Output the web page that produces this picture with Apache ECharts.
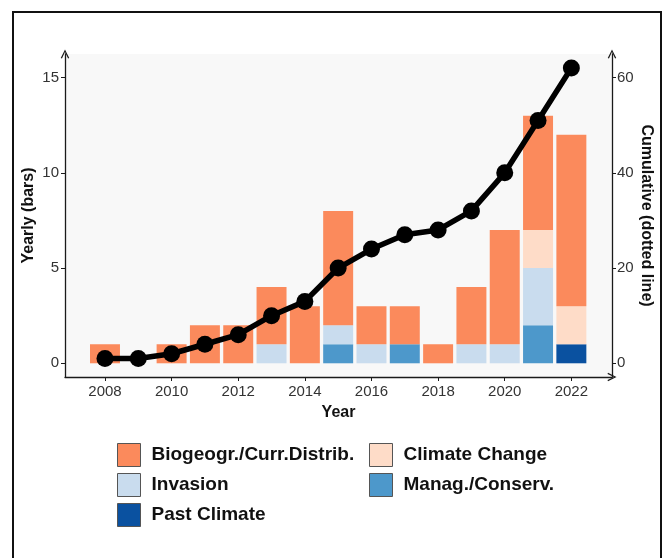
<!DOCTYPE html>
<html>
<head>
<meta charset="utf-8">
<script src="https://cdn.jsdelivr.net/npm/echarts@6/dist/echarts.min.js"></script>
<style>
  html, body { margin: 0; padding: 0; background: #ffffff; }
  #chart { width: 665px; height: 558px; }
</style>
</head>
<body>
<div id="chart"></div>
<script>
// Publication counts per year, split by study topic
const years = [2008, 2009, 2010, 2011, 2012, 2013, 2014, 2015, 2016, 2017, 2018, 2019, 2020, 2021, 2022];
const biogeogr      = [1, 0, 1, 2, 2, 3, 3, 6, 2, 2, 1, 3, 6, 6, 9];
const climateChange = [0, 0, 0, 0, 0, 0, 0, 0, 0, 0, 0, 0, 0, 2, 2];
const invasion      = [0, 0, 0, 0, 0, 1, 0, 1, 1, 0, 0, 1, 1, 3, 0];
const managConserv  = [0, 0, 0, 0, 0, 0, 0, 1, 0, 1, 0, 0, 0, 2, 0];
const pastClimate   = [0, 0, 0, 0, 0, 0, 0, 0, 0, 0, 0, 0, 0, 0, 1];
// Running total of publications
const cumulative    = [1, 1, 2, 4, 6, 10, 13, 20, 24, 27, 28, 32, 40, 51, 62];

const yearTicks = [2008, 2010, 2012, 2014, 2016, 2018, 2020, 2022];
const yearlyTicks = [0, 5, 10, 15];
const cumulativeTicks = [0, 20, 40, 60];

const FONT = '"Liberation Sans", Arial, sans-serif';
const AXIS_COLOR = '#1a1a1a';
const TICK_TEXT = '#333333';

// Panel geometry: the visible axes span a padded year range, the bar
// grid covers exactly the year bands inside it.
const X_MIN = 2006.8, X_MAX = 2023.22;
const Y_MIN = -0.72, Y_MAX = 16.24;
const PANEL = { left: 65, right: 53, top: 54, bottom: 181 };
const panelWidth = 665 - PANEL.left - PANEL.right;
const pxPerYear = panelWidth / (X_MAX - X_MIN);
const barGridLeft = PANEL.left + (years[0] - 0.5 - X_MIN) * pxPerYear;
const barGridRight = 665 - (PANEL.left + (years[years.length - 1] + 0.5 - X_MIN) * pxPerYear);

// open arrow head used at the end of each axis line
const ARROW = 'path://M0,10 L5,0 L10,10 L8.6,10.6 L5,3 L1.4,10.6 Z';

const stackDefs = [
  { name: 'Past Climate', data: pastClimate, color: '#0a51a0' },
  { name: 'Manag./Conserv.', data: managConserv, color: '#4d98cb' },
  { name: 'Invasion', data: invasion, color: '#c9dcee' },
  { name: 'Climate Change', data: climateChange, color: '#fedcc8' },
  { name: 'Biogeogr./Curr.Distrib.', data: biogeogr, color: '#fb8a5c' }
];

const barSeries = stackDefs.map(d => ({
  name: d.name,
  type: 'bar',
  stack: 'topics',
  xAxisIndex: 1,
  yAxisIndex: 2,
  barCategoryGap: '10%',
  data: d.data,
  itemStyle: { color: d.color },
  emphasis: { disabled: true },
  z: 2
}));

const lineSeries = {
  name: 'Cumulative',
  type: 'line',
  xAxisIndex: 0,
  yAxisIndex: 1,
  data: years.map((y, i) => [y, cumulative[i]]),
  symbol: 'circle',
  symbolSize: 17,
  lineStyle: { color: '#000000', width: 5.5, cap: 'round', join: 'round' },
  itemStyle: { color: '#000000' },
  emphasis: { disabled: true },
  z: 5
};

const legendText = {
  fontFamily: FONT,
  fontWeight: 'bold',
  fontSize: 19,
  color: '#111111',
  padding: [0, 0, 0, 6]
};

const legendCommon = {
  orient: 'vertical',
  icon: 'rect',
  itemWidth: 23,
  itemHeight: 23,
  itemGap: 6,
  selectedMode: false,
  textStyle: legendText,
  itemStyle: { borderColor: '#555555', borderWidth: 1 }
};

const titleStyle = { fontFamily: FONT, fontWeight: 'bold', fontSize: 16, color: '#111111' };

const option = {
  animation: false,
  backgroundColor: '#ffffff',
  grid: [
    {
      left: PANEL.left, right: PANEL.right, top: PANEL.top, bottom: PANEL.bottom,
      outerBoundsMode: 'none',
      show: true, backgroundColor: '#f8f8f8', borderWidth: 0
    },
    {
      left: barGridLeft, right: barGridRight, top: PANEL.top, bottom: PANEL.bottom,
      outerBoundsMode: 'none'
    }
  ],
  legend: [
    Object.assign({}, legendCommon, {
      left: 112, top: 438,
      data: ['Biogeogr./Curr.Distrib.', 'Invasion', 'Past Climate']
    }),
    Object.assign({}, legendCommon, {
      left: 364, top: 438,
      data: ['Climate Change', 'Manag./Conserv.']
    })
  ],
  xAxis: [
    {
      type: 'value',
      gridIndex: 0,
      min: X_MIN,
      max: X_MAX,
      name: 'Year',
      nameLocation: 'middle',
      nameGap: 28,
      nameTextStyle: titleStyle,
      axisLine: {
        show: true, onZero: false,
        lineStyle: { color: AXIS_COLOR, width: 1.3 },
        symbol: ['none', ARROW], symbolSize: [9, 9]
      },
      axisTick: { show: true, length: 4, lineStyle: { color: AXIS_COLOR }, customValues: yearTicks },
      axisLabel: {
        fontFamily: FONT, fontSize: 15, color: TICK_TEXT, margin: 7,
        customValues: yearTicks,
        formatter: v => String(v)
      },
      splitLine: { show: false }
    },
    {
      type: 'category',
      gridIndex: 1,
      data: years.map(String),
      boundaryGap: true,
      show: false
    }
  ],
  yAxis: [
    {
      type: 'value',
      gridIndex: 0,
      position: 'left',
      min: Y_MIN,
      max: Y_MAX,
      name: 'Yearly (bars)',
      nameLocation: 'middle',
      nameGap: 28,
      nameMoveOverlap: false,
      nameRotate: 90,
      nameTextStyle: titleStyle,
      axisLine: {
        show: true, onZero: false,
        lineStyle: { color: AXIS_COLOR, width: 1.3 },
        symbol: ['none', ARROW], symbolSize: [9, 9]
      },
      axisTick: { show: true, length: 4, lineStyle: { color: AXIS_COLOR }, customValues: yearlyTicks },
      axisLabel: {
        fontFamily: FONT, fontSize: 15, color: TICK_TEXT, margin: 6,
        customValues: yearlyTicks
      },
      splitLine: { show: false }
    },
    {
      type: 'value',
      gridIndex: 0,
      position: 'right',
      min: Y_MIN * 4,
      max: Y_MAX * 4,
      name: 'Cumulative (dotted line)',
      nameLocation: 'middle',
      nameGap: 26,
      nameMoveOverlap: false,
      nameRotate: -90,
      nameTextStyle: titleStyle,
      axisLine: {
        show: true, onZero: false,
        lineStyle: { color: AXIS_COLOR, width: 1.3 },
        symbol: ['none', ARROW], symbolSize: [9, 9]
      },
      axisTick: { show: true, length: 4, lineStyle: { color: AXIS_COLOR }, customValues: cumulativeTicks },
      axisLabel: {
        fontFamily: FONT, fontSize: 15, color: TICK_TEXT, margin: 5,
        customValues: cumulativeTicks
      },
      splitLine: { show: false }
    },
    {
      type: 'value',
      gridIndex: 1,
      min: Y_MIN,
      max: Y_MAX,
      show: false
    }
  ],
  graphic: [
    {
      type: 'rect',
      shape: { x: 13, y: 12, width: 648, height: 570 },
      style: { fill: 'none', stroke: '#111111', lineWidth: 2 },
      silent: true,
      z: 100
    }
  ],
  series: barSeries.concat([lineSeries])
};

const chart = echarts.init(document.getElementById('chart'), null, { renderer: 'canvas' });
chart.setOption(option);
</script>
</body>
</html>
